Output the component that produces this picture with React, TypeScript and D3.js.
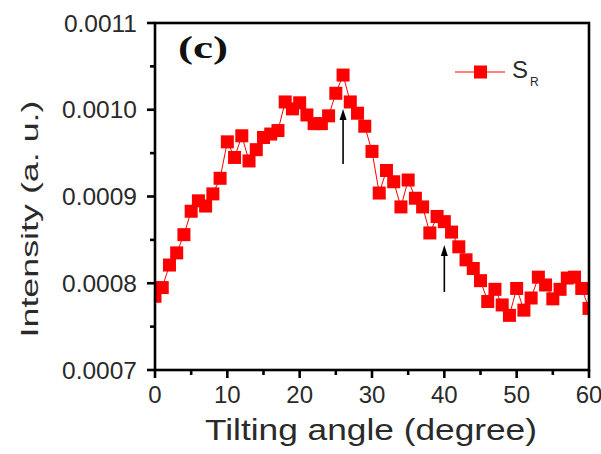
import React from "react";
import * as d3 from "d3";

const angles = [
  0, 1, 2, 3, 4, 5, 6, 7, 8, 9, 10, 11, 12, 13, 14, 15, 16, 17, 18, 19, 20,
  21, 22, 23, 24, 25, 26, 27, 28, 29, 30, 31, 32, 33, 34, 35, 36, 37, 38, 39, 40,
  41, 42, 43, 44, 45, 46, 47, 48, 49, 50, 51, 52, 53, 54, 55, 56, 57, 58, 59, 60,
];
const intensitySR = [
  0.000785, 0.000795, 0.000821, 0.000835, 0.000856, 0.000883, 0.000895, 0.000889, 0.000903, 0.000921, 0.000963,
  0.000945, 0.00097, 0.000941, 0.000954, 0.000968, 0.000972, 0.000976, 0.001009, 0.001001, 0.001008,
  0.000994, 0.000984, 0.000984, 0.000993, 0.001019, 0.00104, 0.001009, 0.000996, 0.000981, 0.000952,
  0.000904, 0.00093, 0.000917, 0.000888, 0.000919, 0.000898, 0.000888, 0.000858, 0.000877, 0.000871,
  0.000859, 0.000842, 0.000827, 0.000817, 0.000803, 0.000779, 0.000793, 0.000775, 0.000763, 0.000794,
  0.000769, 0.000783, 0.000807, 0.000798, 0.000782, 0.000793, 0.000806, 0.000807, 0.000794, 0.000771,
];
const xTicks = [0, 10, 20, 30, 40, 50, 60];
const xMinorTicks = [5, 15, 25, 35, 45, 55];
const yTicks = [0.0007, 0.0008, 0.0009, 0.001, 0.0011];
const yTickLabels = ["0.0007", "0.0008", "0.0009", "0.0010", "0.0011"];
const yMinorTicks = [0.00075, 0.00085, 0.00095, 0.00105];
const arrowX = [26, 40];
const arrowTop = [0.001001, 0.000844];
const arrowBottom = [0.0009375, 0.00079];

export default function App() {
  const left = 155, right = 589, top = 23, bottom = 370;
  const x = d3.scaleLinear().domain([0, 60]).range([left, right]);
  const y = d3.scaleLinear().domain([0.0007, 0.0011]).range([bottom, top]);
  const line = d3
    .line<number>()
    .x((_, i) => x(angles[i]))
    .y((d) => y(d));
  const sq = 13;
  const font = "'Liberation Sans', Arial, sans-serif";
  const textColor = "#2a2a2a";
  return (
    <svg
      width={601}
      height={454}
      style={{ position: "absolute", left: 0, top: 0, background: "#fff" }}
    >
      <defs>
        <clipPath id="plot">
          <rect x={left} y={top} width={right - left} height={bottom - top} />
        </clipPath>
      </defs>
      <rect x={0} y={0} width={601} height={454} fill="#fff" />
      <g clipPath="url(#plot)">
        <path d={line(intensitySR) || ""} fill="none" stroke="#ff0000" strokeWidth={1} />
        {intensitySR.map((v, i) => (
          <rect
            key={i}
            x={x(angles[i]) - sq / 2}
            y={y(v) - sq / 2}
            width={sq}
            height={sq}
            fill="#ff0000"
          />
        ))}
      </g>
      {/* arrows */}
      {arrowX.map((a, i) => {
        const ax = x(a);
        const yt = y(arrowTop[i]);
        const yb = y(arrowBottom[i]);
        return (
          <g key={i}>
            <line x1={ax} x2={ax} y1={yb} y2={yt + 9} stroke="#000" strokeWidth={1.6} />
            <path d={`M${ax},${yt} L${ax - 3.5},${yt + 11} L${ax + 3.5},${yt + 11} Z`} fill="#000" />
          </g>
        );
      })}
      {/* frame */}
      <rect x={left} y={top} width={right - left} height={bottom - top} fill="none" stroke="#000" strokeWidth={2.6} />
      {/* x ticks */}
      {xTicks.map((t) => (
        <g key={t}>
          <line x1={x(t)} x2={x(t)} y1={bottom} y2={bottom + 8} stroke="#000" strokeWidth={2.6} />
          <text x={x(t)} y={403} fontSize={24} fontFamily={font} textAnchor="middle" fill={textColor}>
            {t}
          </text>
        </g>
      ))}
      {xMinorTicks.map((t) => (
        <line key={t} x1={x(t)} x2={x(t)} y1={bottom} y2={bottom + 5} stroke="#000" strokeWidth={2.6} />
      ))}
      {/* y ticks */}
      {yTicks.map((t, i) => (
        <g key={t}>
          <line x1={left - 8} x2={left} y1={y(t)} y2={y(t)} stroke="#000" strokeWidth={2.6} />
          <text x={137} y={y(t) + 8.5} fontSize={24.5} fontFamily={font} textAnchor="end" fill={textColor}>
            {yTickLabels[i]}
          </text>
        </g>
      ))}
      {yMinorTicks.map((t) => (
        <line key={t} x1={left - 5} x2={left} y1={y(t)} y2={y(t)} stroke="#000" strokeWidth={2.6} />
      ))}
      {/* axis titles */}
      <text
        x={371}
        y={440}
        fontSize={30}
        fontFamily={font}
        textAnchor="middle"
        fill={textColor}
        textLength={332}
        lengthAdjust="spacingAndGlyphs"
      >
        Tilting angle (degree)
      </text>
      <text
        transform="translate(38,219) rotate(-90)"
        fontSize={24}
        fontFamily={font}
        textAnchor="middle"
        fill={textColor}
        textLength={237}
        lengthAdjust="spacingAndGlyphs"
      >
        Intensity (a. u.)
      </text>
      {/* panel label */}
      <text
        x={178}
        y={58}
        fontSize={31}
        fontWeight="bold"
        fontFamily="'Liberation Serif', 'Times New Roman', serif"
        fill="#111"
        textLength={50}
        lengthAdjust="spacingAndGlyphs"
      >
        (c)
      </text>
      {/* legend */}
      <line x1={455} x2={505} y1={72} y2={72} stroke="#ff0000" strokeWidth={1.2} />
      <rect x={480.5 - sq / 2} y={72 - sq / 2} width={sq} height={sq} fill="#ff0000" />
      <text x={512} y={77.5} fontSize={24} fontFamily={font} fill={textColor}>
        S
      </text>
      <text x={530} y={85.5} fontSize={12} fontFamily={font} fill={textColor}>
        R
      </text>
    </svg>
  );
}
